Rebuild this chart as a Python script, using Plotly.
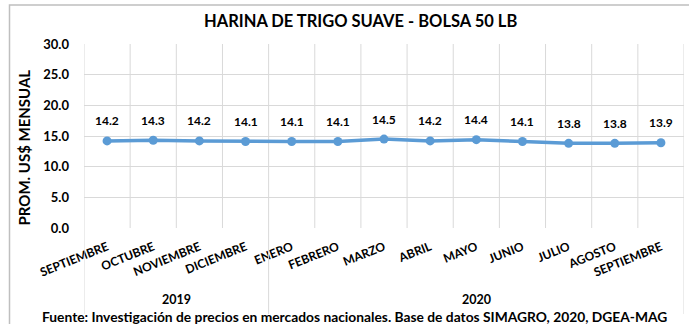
import plotly.graph_objects as go

# Monthly average price, flour bag 50 lb (US$)
months = ["SEPTIEMBRE", "OCTUBRE", "NOVIEMBRE", "DICIEMBRE", "ENERO", "FEBRERO",
          "MARZO", "ABRIL", "MAYO", "JUNIO", "JULIO", "AGOSTO", "SEPTIEMBRE"]
prices = [14.2, 14.3, 14.2, 14.1, 14.1, 14.1, 14.5, 14.2, 14.4, 14.1, 13.8, 13.8, 13.9]
years = ["2019", "2020"]
year_spans = [(0, 3), (4, 12)]
y_ticks = [0, 5, 10, 15, 20, 25, 30]

FONT = "Lato"
BLUE = "#5B9BD5"
GRID = "#D9D9D9"
BLACK = "#000000"

# plot-area geometry in pixels (used to place paper-relative items)
W, H = 689, 324
L, R, T, B = 84, 5, 44, 96
PW, PH = W - L - R, H - T - B


def px(x):
    return (x - L) / PW


def py(y):
    return (H - B - y) / PH


x_idx = list(range(len(months)))

fig = go.Figure()
fig.add_trace(go.Scatter(
    x=x_idx, y=prices,
    mode="lines+markers",
    line=dict(color=BLUE, width=3.5),
    marker=dict(color=BLUE, size=9),
    cliponaxis=False,
    hoverinfo="skip",
))

shapes = []
annotations = []

# value labels above each point
for i, v in zip(x_idx, prices):
    annotations.append(dict(x=i, y=v, xref="x", yref="y", text=f"{v:.1f}",
                            showarrow=False, yanchor="middle", yshift=20,
                            font=dict(family=FONT, size=12, color=BLACK, weight="bold")))

# outer chart frame
shapes.append(dict(type="rect", xref="paper", yref="paper",
                   x0=px(9.5), x1=px(720), y0=py(340), y1=py(5),
                   line=dict(color="#BFBFBF", width=1.5), layer="below"))

# vertical grid lines on category boundaries
for i in range(len(months) + 1):
    shapes.append(dict(type="line", xref="x", yref="y", x0=i - 0.5, x1=i - 0.5,
                       y0=0, y1=30, line=dict(color=GRID, width=1), layer="below"))

# year group dividers and labels
for b in [-0.5, 3.5, 12.5]:
    shapes.append(dict(type="line", xref="x", yref="paper", x0=b, x1=b,
                       y0=0, y1=py(314), line=dict(color=GRID, width=1)))
for yr, (a, b) in zip(years, year_spans):
    annotations.append(dict(x=(a + b) / 2, y=py(299), xref="x", yref="paper",
                            text=yr, showarrow=False, yanchor="middle", borderpad=0,
                            font=dict(family=FONT, size=12.5, color=BLACK, weight="bold")))

annotations.append(dict(
    x=px(360.5), y=py(21), xref="paper", yref="paper",
    text="HARINA DE TRIGO SUAVE - BOLSA 50 LB", showarrow=False, yanchor="middle",
    font=dict(family=FONT, size=16.5, color=BLACK, weight="bold")))

annotations.append(dict(
    x=px(23.5), y=py(148), xref="paper", yref="paper", textangle=-90,
    text="PROM. US$ MENSUAL", showarrow=False, xanchor="center", yanchor="middle",
    font=dict(family=FONT, size=15, color=BLACK, weight="bold")))

annotations.append(dict(
    x=px(354), y=py(316.5), xref="paper", yref="paper",
    text="Fuente: Investigación de precios en mercados nacionales. Base de datos SIMAGRO, 2020, DGEA-MAG",
    showarrow=False, yanchor="middle", borderpad=0,
    font=dict(family=FONT, size=13.8, color=BLACK, weight="bold")))

fig.update_layout(
    width=W, height=H,
    margin=dict(l=L, r=R, t=T, b=B),
    paper_bgcolor="#FFFFFF", plot_bgcolor="#FFFFFF",
    showlegend=False,
    shapes=shapes,
    annotations=annotations,
    xaxis=dict(
        range=[-0.5, 12.5],
        tickmode="array", tickvals=x_idx, ticktext=months,
        tickangle=-22, showgrid=False, zeroline=False,
        showline=False, ticks="", ticklabelstandoff=9,
        tickfont=dict(family=FONT, size=12, color=BLACK, weight="bold"),
        fixedrange=True,
    ),
    yaxis=dict(
        range=[0, 30], tickvals=y_ticks, ticktext=[f"{v:.1f}" for v in y_ticks],
        showgrid=True, gridcolor=GRID, gridwidth=1, zeroline=False,
        showline=False, ticks="", ticklabelstandoff=14,
        tickfont=dict(family=FONT, size=13, color=BLACK, weight="bold"),
        fixedrange=True,
    ),
)

fig.write_html("out.html")
